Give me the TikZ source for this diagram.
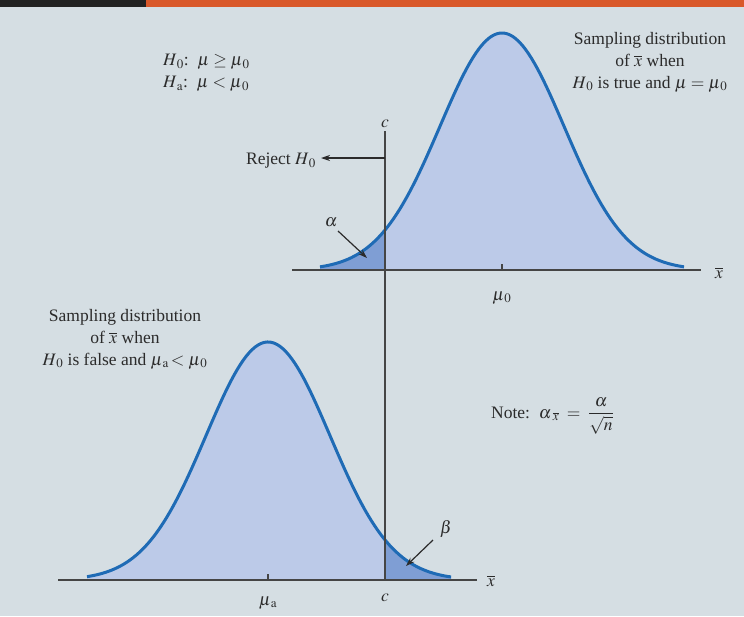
\documentclass[tikz,border=0pt]{standalone}
\usepackage{amsmath}
\usepackage{mathptmx}
\usepackage{fontspec}
\setmainfont{Liberation Serif}
\usetikzlibrary{arrows.meta}
\definecolor{bg}{HTML}{D5DEE3}
\definecolor{curvecol}{HTML}{1F6BB5}
\definecolor{lightfill}{HTML}{BCCAE8}
\definecolor{darkfill}{HTML}{7F9ED4}
\definecolor{axiscol}{HTML}{454545}
\definecolor{txt}{HTML}{2B2B2B}
\definecolor{hdrdark}{HTML}{222222}
\definecolor{hdrorange}{HTML}{D9582A}
\tikzset{
  lbl/.style={text=txt, inner sep=0pt, font=\fontsize{17.5}{22}\selectfont},
  axisline/.style={draw=axiscol, line width=2pt},
  curveline/.style={draw=curvecol, line width=3pt},
  ptr/.style={draw=txt, line width=1.2pt, -{Stealth[length=9pt,width=6pt]}},
}
\newcommand{\mysub}[2]{#1_{\,#2}}
\begin{document}
\begin{tikzpicture}[x=1pt,y=-1pt]
\useasboundingbox (0,0) rectangle (744,616);
\fill[bg] (0,0) rectangle (744,616);
\fill[hdrdark] (0,0) rectangle (146,7);
\fill[hdrorange] (146,0) rectangle (744,7);
% top distribution
\fill[lightfill] plot[domain=-182:182, samples=120] ({502+\x},{270-237*exp(-0.5*(\x/62)^2)}) -- (684,270) -- (320,270) -- cycle;
\fill[darkfill] plot[domain=-182:-117, samples=40] ({502+\x},{270-237*exp(-0.5*(\x/62)^2)}) -- (385,270) -- (320,270) -- cycle;
\draw[curveline] plot[domain=-182:182, samples=120] ({502+\x},{270-237*exp(-0.5*(\x/62)^2)});
% bottom distribution
\fill[lightfill] plot[domain=-181:183, samples=120] ({268+\x},{580-238*exp(-0.5*(\x/62)^2)}) -- (451,580) -- (87,580) -- cycle;
\fill[darkfill] plot[domain=117:183, samples=40] ({268+\x},{580-238*exp(-0.5*(\x/62)^2)}) -- (451,580) -- (385,580) -- cycle;
\draw[curveline] plot[domain=-181:183, samples=120] ({268+\x},{580-238*exp(-0.5*(\x/62)^2)});
% axes
\coordinate (topL) at (292,270);
\coordinate (topR) at (701,270);
\coordinate (botL) at (58,580);
\coordinate (botR) at (477,580);
\draw[axisline] (topL) -- (topR);
\draw[axisline] (botL) -- (botR);
\draw[axiscol, line width=1.5pt] (502,264) -- (502,270);
\draw[axiscol, line width=1.5pt] (268,574) -- (268,580);
% critical line
\coordinate (ctop) at (385,131);
\coordinate (cbot) at (385,581);
\draw[axiscol, line width=2pt] (ctop) -- (cbot);
\coordinate (rejstart) at (385,158);
\coordinate (rejend) at (321,158);
% labels
\node[lbl, anchor=west] (h0) at (163,62) {$\mysub{H}{0}$:\ \ $\mu \geq \mysub{\mu}{0}$};
\node[lbl, anchor=west] (ha) at (163,84) {$\mysub{H}{\mathrm{a}}$:\ \ $\mu < \mysub{\mu}{0}$};
\node[lbl, align=center] (toptext) at (650,62) {Sampling distribution\\of $\overline{x}$ when\\$\mysub{H}{0}$ is true and $\mu = \mysub{\mu}{0}$};
\node[lbl] (clabtop) at (385,124) {$c$};
\node[lbl, anchor=east] (reject) at (316,161) {Reject $\mysub{H}{0}$};
\draw[ptr] (rejstart) -- (rejend);
\node[lbl] (alpha) at (331,222) {$\alpha$};
\coordinate (alphatail) at (338,231);
\coordinate (alphatip) at (367,258);
\draw[ptr] (alphatail) -- (alphatip);
\node[lbl] (mu0) at (502,298) {$\mysub{\mu}{0}$};
\node[lbl] (xbartop) at (719,273) {$\overline{x}$};
\node[lbl, align=center] (lefttext) at (125,339) {Sampling distribution\\of $\overline{x}$ when\\$\mysub{H}{0}$ is false and $\mysub{\mu}{\mathrm{a}}\!< \mysub{\mu}{0}$};
\node[lbl, anchor=west] (note) at (491,416) {Note:\ \ $\alpha_{\;\overline{x}} \;=\; \dfrac{\alpha}{\sqrt{n}}$};
\node[lbl] (beta) at (446,529) {$\beta$};
\coordinate (betatail) at (433,540);
\coordinate (betatip) at (406,566);
\draw[ptr] (betatail) -- (betatip);
\node[lbl] (xbarbot) at (491,581) {$\overline{x}$};
\node[lbl] (mua) at (268,603) {$\mysub{\mu}{\mathrm{a}}$};
\node[lbl] (clabbot) at (385,598) {$c$};
\end{tikzpicture}
\end{document}
